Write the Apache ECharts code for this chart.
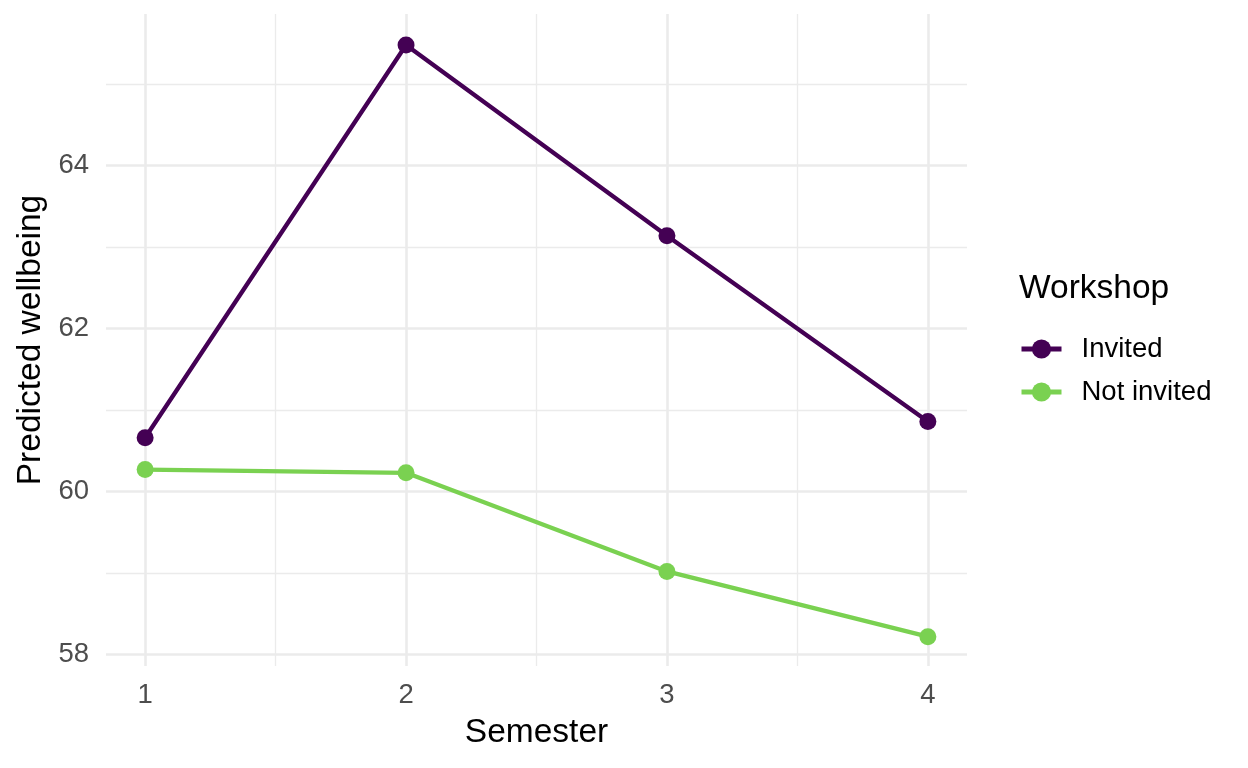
<!DOCTYPE html>
<html>
<head>
<meta charset="utf-8">
<script src="https://cdn.jsdelivr.net/npm/echarts@6/dist/echarts.min.js"></script>
<style>
  html, body { margin: 0; padding: 0; background: #fff; }
  #chart { width: 1248px; height: 768px; }
</style>
</head>
<body>
<div id="chart"></div>
<script>
var semesters = [1, 2, 3, 4];
var invited = [60.66, 65.48, 63.14, 60.86];
var notInvited = [60.27, 60.23, 59.02, 58.22];
var xTicks = [1, 2, 3, 4];
var xMinor = [1.5, 2.5, 3.5];
var yTicks = [58, 60, 62, 64];
var yMinor = [59, 61, 63, 65];

var font = '"Liberation Sans", Arial, sans-serif';

function pairs(vals) {
    return semesters.map(function (s, i) { return [s, vals[i]]; });
}

var chart = echarts.init(document.getElementById('chart'));

var option = {
    animation: false,
    backgroundColor: '#ffffff',
    textStyle: { fontFamily: font },
    title: {
        text: 'Workshop',
        left: 1014,
        top: 267,
        textStyle: { fontFamily: font, fontSize: 33.5, fontWeight: 'normal', color: '#000' }
    },
    legend: {
        orient: 'vertical',
        left: 1019,
        top: 335,
        padding: 0,
        itemWidth: 40,
        itemHeight: 24,
        itemGap: 15,
        lineStyle: { width: 5 },
        textStyle: { fontFamily: font, fontSize: 27.5, color: '#000', padding: [0, 0, 0, 15] },
        data: ['Invited', 'Not invited']
    },
    grid: {
        left: 106,
        right: 281,
        top: 14,
        bottom: 102
    },
    xAxis: [
        {
            type: 'value',
            min: 0.85,
            max: 4.15,
            name: 'Semester',
            nameLocation: 'middle',
            nameGap: 50,
            nameTextStyle: { fontFamily: font, fontSize: 33.5, color: '#000' },
            axisLine: { show: false },
            axisTick: { show: false, customValues: xTicks },
            axisLabel: {
                customValues: xTicks,
                fontSize: 27.5, color: '#4D4D4D', margin: 15, fontFamily: font
            },
            splitLine: { show: true, lineStyle: { color: '#EBEBEB', width: 2.6 } }
        },
        {
            type: 'value',
            min: 0.85,
            max: 4.15,
            position: 'bottom',
            axisLine: { show: false },
            axisTick: { show: false, customValues: xMinor },
            axisLabel: { show: false },
            splitLine: { show: true, lineStyle: { color: '#EBEBEB', width: 1.3 } }
        }
    ],
    yAxis: [
        {
            type: 'value',
            min: 57.86,
            max: 65.86,
            name: 'Predicted wellbeing',
            nameLocation: 'middle',
            nameGap: 53,
            nameTextStyle: { fontFamily: font, fontSize: 33.5, color: '#000' },
            axisLine: { show: false },
            axisTick: { show: false, customValues: yTicks },
            axisLabel: {
                customValues: yTicks,
                fontSize: 27.5, color: '#4D4D4D', margin: 17, fontFamily: font
            },
            splitLine: { show: true, lineStyle: { color: '#EBEBEB', width: 2.6 } }
        },
        {
            type: 'value',
            min: 57.86,
            max: 65.86,
            position: 'left',
            axisLine: { show: false },
            axisTick: { show: false, customValues: yMinor },
            axisLabel: { show: false },
            splitLine: { show: true, lineStyle: { color: '#EBEBEB', width: 1.3 } }
        }
    ],
    series: [
        {
            name: 'Invited',
            type: 'line',
            symbol: 'circle',
            symbolSize: 17,
            color: '#440154',
            lineStyle: { width: 4.3, color: '#440154' },
            itemStyle: { color: '#440154' },
            data: pairs(invited)
        },
        {
            name: 'Not invited',
            type: 'line',
            symbol: 'circle',
            symbolSize: 17,
            color: '#7AD151',
            lineStyle: { width: 4.3, color: '#7AD151' },
            itemStyle: { color: '#7AD151' },
            data: pairs(notInvited)
        }
    ]
};

chart.setOption(option);
</script>
</body>
</html>
